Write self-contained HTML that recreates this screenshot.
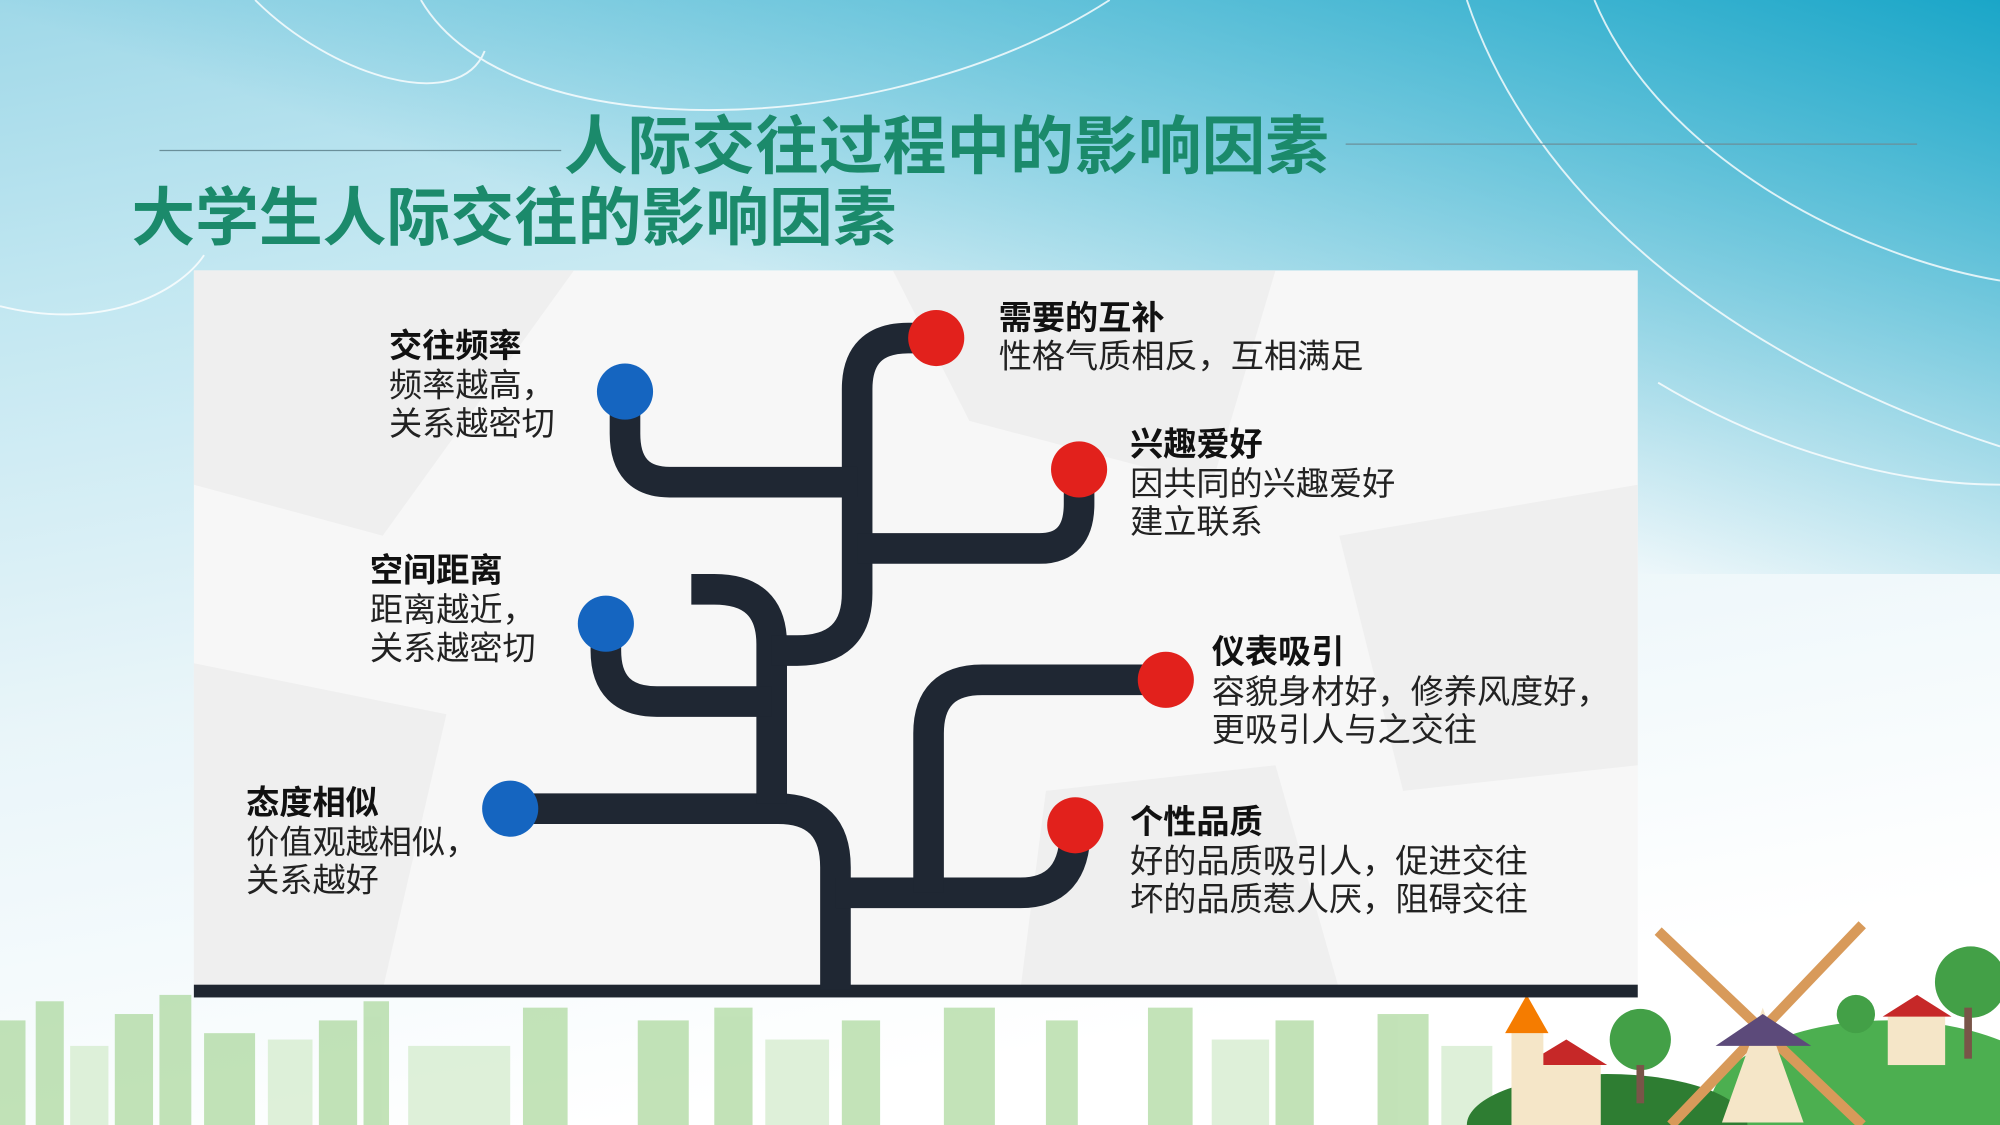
<!DOCTYPE html>
<html><head><meta charset="utf-8"><style>
html,body{margin:0;padding:0;width:2000px;height:1125px;overflow:hidden}
svg{display:block;overflow:hidden;position:absolute;left:0;top:0}
text{font-family:"Liberation Sans","Noto Sans CJK SC",sans-serif}
</style></head><body>
<svg width="2000" height="1125" viewBox="0 0 1568 882" xmlns="http://www.w3.org/2000/svg">
<defs>
<linearGradient id="bg" x1="0" y1="0" x2="0.3" y2="1">
<stop offset="0" stop-color="#9fd8e8"/>
<stop offset="0.25" stop-color="#c2e7f1"/>
<stop offset="0.6" stop-color="#e9f5f9"/>
<stop offset="1" stop-color="#ffffff"/>
</linearGradient>
<linearGradient id="tr" x1="1" y1="0" x2="0.4" y2="0.5">
<stop offset="0" stop-color="#1aa6c8"/>
<stop offset="1" stop-color="#1aa6c8" stop-opacity="0"/>
</linearGradient>
<clipPath id="c"><rect width="1568" height="882"/></clipPath>
</defs>
<g clip-path="url(#c)">
<rect width="1568" height="882" fill="url(#bg)"/>
<rect width="1568" height="450" fill="url(#tr)"/>
<g fill="none" stroke="#ffffff" stroke-width="1.5" opacity="0.8">
<path d="M200 0 C260 60 360 90 380 40"/>
<path d="M330 0 C400 120 700 110 870 0"/>
<path d="M1150 0 C1200 150 1350 280 1568 350"/>
<path d="M1250 0 C1300 120 1450 200 1568 220"/>
<path d="M0 240 C80 260 140 230 160 200"/>
<path d="M1300 300 C1400 360 1500 380 1568 380"/>
</g>
<g fill="#a9d79a" opacity="0.7">
<rect x="0" y="800" width="20" height="82"/><rect x="28" y="785" width="22" height="97"/>
<rect x="90" y="795" width="30" height="87"/><rect x="125" y="780" width="25" height="102"/>
<rect x="160" y="810" width="40" height="72"/><rect x="250" y="800" width="30" height="82"/>
<rect x="285" y="785" width="20" height="97"/><rect x="410" y="790" width="35" height="92"/>
<rect x="500" y="800" width="40" height="82"/><rect x="560" y="790" width="30" height="92"/>
<rect x="660" y="800" width="30" height="82"/><rect x="740" y="790" width="40" height="92"/>
<rect x="820" y="800" width="25" height="82"/><rect x="900" y="790" width="35" height="92"/>
<rect x="1000" y="800" width="30" height="82"/><rect x="1080" y="795" width="40" height="87"/>
</g>
<g fill="#d6ecd0" opacity="0.8">
<rect x="55" y="820" width="30" height="62"/><rect x="210" y="815" width="35" height="67"/>
<rect x="320" y="820" width="80" height="62"/><rect x="600" y="815" width="50" height="67"/>
<rect x="950" y="815" width="45" height="67"/><rect x="1130" y="820" width="40" height="62"/>
</g>
<ellipse cx="1480" cy="870" rx="140" ry="70" fill="#4caf50"/>
<ellipse cx="1260" cy="882" rx="110" ry="40" fill="#2e7d32"/>
<circle cx="1545" cy="770" r="28" fill="#43a047"/><rect x="1540" y="790" width="6" height="40" fill="#795548"/>
<circle cx="1286" cy="815" r="24" fill="#43a047"/><rect x="1283" y="835" width="6" height="30" fill="#795548"/>
<circle cx="1455" cy="795" r="15" fill="#43a047"/>
<rect x="1200" y="835" width="55" height="47" fill="#f5e6c8"/><polygon points="1195,835 1228,815 1260,835" fill="#c62828"/>
<rect x="1185" y="808" width="25" height="74" fill="#f5e6c8"/><polygon points="1180,810 1197,780 1214,810" fill="#f57c00"/>
<rect x="1480" y="795" width="45" height="40" fill="#f5e6c8"/><polygon points="1476,797 1503,780 1530,797" fill="#c62828"/>
<g stroke="#d89a5a" stroke-width="8" fill="none">
<line x1="1300" y1="730" x2="1460" y2="882"/><line x1="1460" y1="725" x2="1310" y2="882"/>
</g>
<polygon points="1350,880 1382,790 1414,880" fill="#f5e6c8"/><polygon points="1345,820 1382,795 1420,820" fill="#5c4a7a"/>
<line x1="125" y1="118" x2="440" y2="118" stroke="#6a8f9a" stroke-width="1"/>
<line x1="1055" y1="113" x2="1503" y2="113" stroke="#6a8f9a" stroke-width="1"/>
<text x="742" y="132" font-size="50" font-weight="bold" fill="#1b8a6b" text-anchor="middle">人际交往过程中的影响因素</text>
<text x="103" y="188" font-size="50" font-weight="bold" fill="#1b8a6b">大学生人际交往的影响因素</text>
<rect x="152" y="212" width="1132" height="564" fill="#f7f7f7"/>
<g fill="#efefef">
<polygon points="152,212 450,212 300,420 152,380"/>
<polygon points="700,212 1000,212 950,380 760,330"/>
<polygon points="1050,420 1284,380 1284,600 1100,620"/>
<polygon points="152,520 350,560 300,776 152,776"/>
<polygon points="820,620 1000,600 1050,776 800,776"/>
</g>
<rect x="152" y="772" width="1132" height="10" fill="#1f2630"/>
<g fill="none" stroke="#1f2733" stroke-width="24" stroke-linecap="butt" stroke-linejoin="round">
<path d="M655 776 L655 680 Q655 634 610 634 L400 634"/>
<path d="M655 700 L800 700 Q843 700 843 650"/>
<path d="M728 700 L728 575 Q728 533 770 533 L914 533"/>
<path d="M605 630 L605 505 Q605 462 560 462 L542 462"/>
<path d="M605 550 L515 550 Q475 550 475 510 L475 490"/>
<path d="M605 510 L625 510 Q672 510 672 465 L672 305 Q672 265 712 265 L734 265"/>
<path d="M672 378 L525 378 Q490 378 490 340 L490 307"/>
<path d="M672 430 L815 430 Q846 430 846 395 L846 368"/>
</g>
<g fill="#1565c0"><circle cx="490" cy="307" r="22"/><circle cx="475" cy="489" r="22"/><circle cx="400" cy="634" r="22"/></g>
<g fill="#e2211c"><circle cx="734" cy="265" r="22"/><circle cx="846" cy="368" r="22"/><circle cx="914" cy="533" r="22"/><circle cx="843" cy="647" r="22"/></g>
<g font-size="26" fill="#222">
<text x="783" y="258" font-weight="bold" fill="#111">需要的互补</text>
<text x="783" y="288">性格气质相反，互相满足</text>
<text x="305" y="280" font-weight="bold" fill="#111">交往频率</text>
<text x="305" y="311">频率越高，</text><text x="305" y="341">关系越密切</text>
<text x="886" y="357" font-weight="bold" fill="#111">兴趣爱好</text>
<text x="886" y="388">因共同的兴趣爱好</text><text x="886" y="418">建立联系</text>
<text x="290" y="456" font-weight="bold" fill="#111">空间距离</text>
<text x="290" y="487">距离越近，</text><text x="290" y="517">关系越密切</text>
<text x="950" y="520" font-weight="bold" fill="#111">仪表吸引</text>
<text x="950" y="551">容貌身材好，修养风度好，</text><text x="950" y="581">更吸引人与之交往</text>
<text x="193" y="638" font-weight="bold" fill="#111">态度相似</text>
<text x="193" y="669">价值观越相似，</text><text x="193" y="699">关系越好</text>
<text x="886" y="653" font-weight="bold" fill="#111">个性品质</text>
<text x="886" y="684">好的品质吸引人，促进交往</text><text x="886" y="714">坏的品质惹人厌，阻碍交往</text>
</g>
</g>
</svg>
</body></html>
